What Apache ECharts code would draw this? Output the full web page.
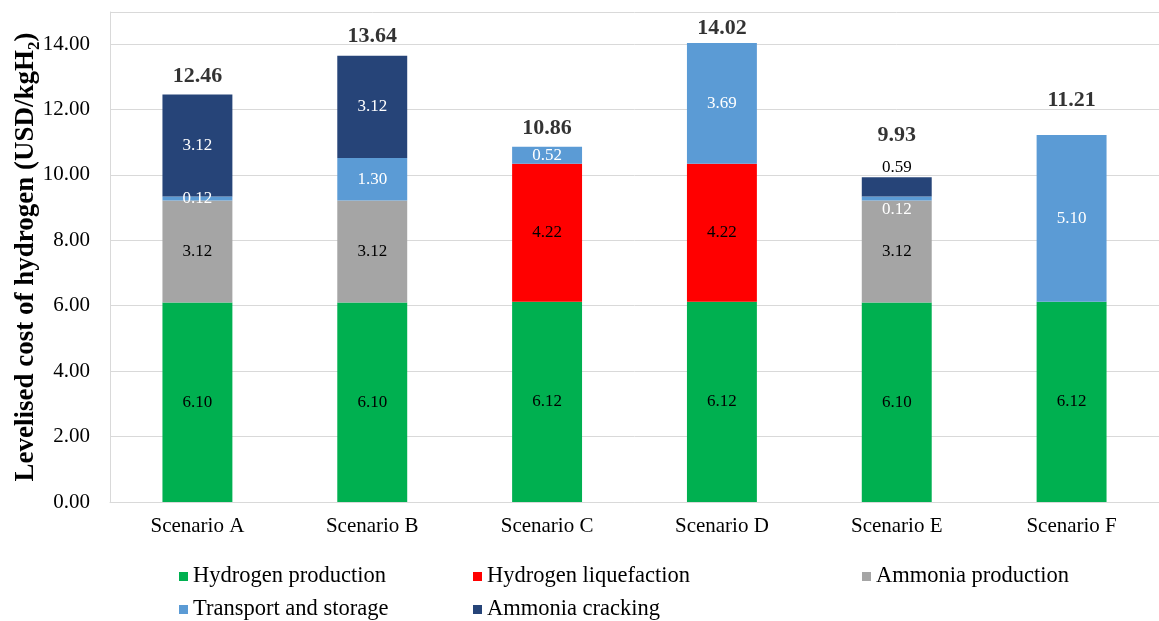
<!DOCTYPE html>
<html>
<head>
<meta charset="utf-8">
<title>Levelised cost of hydrogen by scenario</title>
<script src="https://cdn.jsdelivr.net/npm/echarts@6/dist/echarts.min.js"></script>
<style>
  html, body { margin: 0; padding: 0; background: #fff; }
  #chart { width: 1159px; height: 621px; }
</style>
</head>
<body>
<div id="chart"></div>
<script>
// Cost components (USD/kgH2) per scenario; '-' means the component is absent
const scenarios = ['Scenario A', 'Scenario B', 'Scenario C', 'Scenario D', 'Scenario E', 'Scenario F'];
const hydrogenProduction = [6.10, 6.10, 6.12, 6.12, 6.10, 6.12];
const hydrogenLiquefaction = ['-', '-', 4.22, 4.22, '-', '-'];
const ammoniaProduction = [3.12, 3.12, '-', '-', 3.12, '-'];
const transportStorage = [0.12, 1.30, 0.52, 3.69, 0.12, 5.10];
const ammoniaCracking = [3.12, 3.12, '-', '-', 0.59, '-'];
const totals = [12.46, 13.64, 10.86, 14.02, 9.93, 11.21];
const yTicks = [0, 2, 4, 6, 8, 10, 12, 14];

const SERIF = "'Liberation Serif', 'Times New Roman', serif";
const COLORS = {
  prod: '#00B050',
  liq: '#FF0000',
  nh3: '#A5A5A5',
  trans: '#5B9BD5',
  crack: '#264478'
};

// lift of each total label above its bar (px)
const totalLift = [7, 9, 7, 4, 31, 24];

function segLabel(color) {
  return {
    show: true,
    position: 'inside',
    color: color,
    fontFamily: SERIF,
    fontSize: 17,
    formatter: p => Number(p.value).toFixed(2)
  };
}

function stackSeries(name, data, color, labelColor) {
  return {
    name: name,
    type: 'bar',
    stack: 'cost',
    barWidth: '40%',
    data: data,
    itemStyle: { color: color },
    label: segLabel(labelColor),
    emphasis: { disabled: true }
  };
}

const transportSeries = stackSeries('Transport and storage', transportStorage, COLORS.trans, '#fff');
transportSeries.data = transportStorage.map((v, i) =>
  i === 4 ? { value: v, label: { offset: [0, 11] } } : v);

const crackingSeries = stackSeries('Ammonia cracking', ammoniaCracking, COLORS.crack, '#fff');
crackingSeries.data = ammoniaCracking.map((v, i) =>
  i === 4 ? { value: v, label: { position: 'top', distance: 1, color: '#000' } } : v);

const totalSeries = {
  name: 'Total',
  type: 'scatter',
  symbolSize: 0,
  silent: true,
  data: totals.map((v, i) => ({
    value: v,
    label: { distance: totalLift[i] }
  })),
  label: {
    show: true,
    position: 'top',
    color: '#000',
    fontFamily: SERIF,
    fontSize: 22,
    fontWeight: 'bold',
    formatter: p => Number(p.value).toFixed(2)
  }
};

const legendBase = {
  orient: 'vertical',
  top: 565,
  padding: 0,
  itemWidth: 9,
  itemHeight: 9,
  itemGap: 10,
  icon: 'rect',
  selectedMode: false,
  textStyle: { fontFamily: SERIF, fontSize: 22.5, lineHeight: 22, color: '#000' }
};

const option = {
  animation: false,
  backgroundColor: '#fff',
  legend: [
    Object.assign({}, legendBase, { left: 179, data: ['Hydrogen production', 'Transport and storage'] }),
    Object.assign({}, legendBase, { left: 473, data: ['Hydrogen liquefaction', 'Ammonia cracking'] }),
    Object.assign({}, legendBase, { left: 862, data: ['Ammonia production'] })
  ],
  grid: { left: 110, right: 0, top: 12, bottom: 119, outerBoundsMode: 'none', containLabel: false },
  xAxis: {
    type: 'category',
    data: scenarios,
    axisTick: { show: false },
    axisLine: { lineStyle: { color: '#d9d9d9', width: 1 } },
    axisLabel: { fontFamily: SERIF, fontSize: 21, color: '#000', margin: 14 }
  },
  yAxis: {
    type: 'value',
    min: yTicks[0],
    max: 14.98,
    interval: 2,
    name: '{t|Levelised cost of hydrogen (USD/kgH}{s|2}{t|)}',
    nameLocation: 'middle',
    nameGap: 70,
    nameRotate: 90,
    nameMoveOverlap: false,
    nameTextStyle: {
      rich: {
        t: { fontFamily: SERIF, fontSize: 27, fontWeight: 'bold', color: '#000' },
        s: { fontFamily: SERIF, fontSize: 17, fontWeight: 'bold', color: '#000', verticalAlign: 'bottom', padding: [0, 0, -3, 0] }
      }
    },
    axisLine: { show: true, lineStyle: { color: '#d9d9d9', width: 1 } },
    axisTick: { show: false },
    splitLine: { lineStyle: { color: '#d9d9d9', width: 1 } },
    axisLabel: {
      fontFamily: SERIF,
      fontSize: 21,
      color: '#000',
      margin: 20,
      formatter: v => (yTicks.indexOf(v) >= 0 ? v.toFixed(2) : '')
    }
  },
  series: [
    stackSeries('Hydrogen production', hydrogenProduction, COLORS.prod, '#000'),
    stackSeries('Hydrogen liquefaction', hydrogenLiquefaction, COLORS.liq, '#000'),
    stackSeries('Ammonia production', ammoniaProduction, COLORS.nh3, '#000'),
    transportSeries,
    crackingSeries,
    totalSeries
  ]
};

const chart = echarts.init(document.getElementById('chart'), null, { renderer: 'canvas' });
chart.setOption(option);
</script>
</body>
</html>
